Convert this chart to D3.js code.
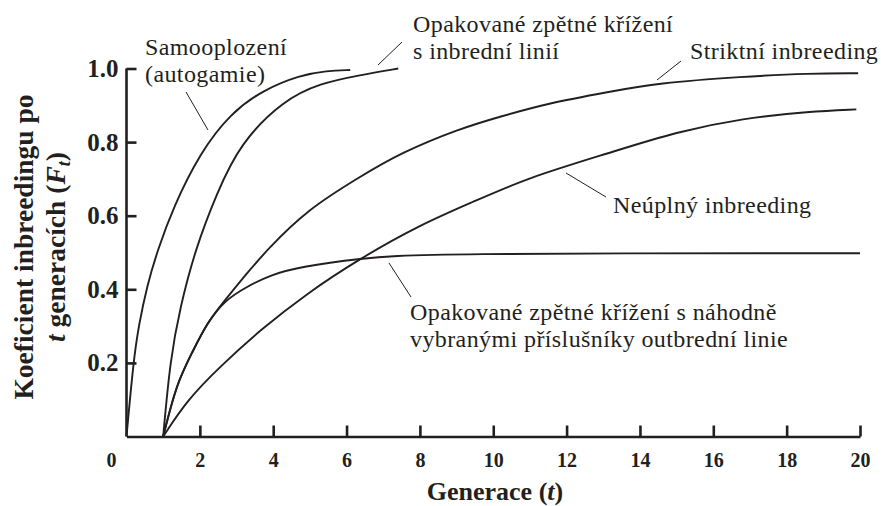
<!DOCTYPE html>
<html>
<head>
<meta charset="utf-8">
<script src="https://cdn.jsdelivr.net/npm/d3@7"></script>
<style>
  body { margin: 0; background: #fff; }
  svg text { font-family: "Liberation Serif", "Times New Roman", serif; fill: #231f20; }
  .axis path, .axis line { stroke: #231f20; stroke-width: 2.6; }
  .axis text { font-weight: bold; }
  .curve { fill: none; stroke: #231f20; stroke-width: 1.9; }
  .leader { stroke: #231f20; stroke-width: 1; }
  .note { font-size: 24px; letter-spacing: 0.4px; }
</style>
</head>
<body>
<div class="chart"></div>
<script>
// values (generation t, inbreeding coefficient F)
var selfT = [0, 0.19, 0.33, 0.56, 0.85, 1.28, 2.0, 2.83, 3.73, 4.73, 5.46, 6.1];
var selfF = [0, 0.205, 0.30, 0.41, 0.507, 0.624, 0.77, 0.878, 0.942, 0.982, 0.994, 0.996];

var inbredBackT = [1, 1.19, 1.46, 1.87, 2.46, 3.10, 4.28, 5.28, 6.37, 7.41];
var inbredBackF = [0, 0.208, 0.35, 0.507, 0.661, 0.797, 0.914, 0.96, 0.982, 1.0];

var strictT = [1, 1.37, 1.78, 2.19, 2.69, 3.28, 3.83, 4.92, 6.37, 7.46, 9.09, 10.18, 11.46, 13.18, 14.45, 16.8, 18.63, 19.95];
var strictF = [0, 0.145, 0.226, 0.308, 0.371, 0.443, 0.507, 0.616, 0.706, 0.770, 0.837, 0.869, 0.905, 0.937, 0.96, 0.978, 0.987, 0.987];

var partialT = [1, 1.65, 2.55, 3.64, 4.92, 6.37, 8.0, 9.46, 10.91, 13.18, 15.0, 16.81, 18.63, 19.9];
var partialF = [0, 0.099, 0.19, 0.289, 0.389, 0.484, 0.575, 0.638, 0.702, 0.771, 0.828, 0.865, 0.883, 0.889];

var outbredBackT = [1, 1.37, 1.78, 2.19, 2.69, 3.28, 3.92, 4.73, 6.37, 8.0, 20];
var outbredBackF = [0, 0.145, 0.226, 0.308, 0.371, 0.407, 0.439, 0.461, 0.484, 0.498, 0.498];

var xTicks = [2, 4, 6, 8, 10, 12, 14, 16, 18, 20];
var yTicks = [0.2, 0.4, 0.6, 0.8, 1.0];

var svgWidth = 881;
var svgHeight = 506;

var svg = d3.select(".chart")
  .append("svg")
  .attr("width", svgWidth)
  .attr("height", svgHeight);

var x = d3.scaleLinear().domain([0, 20]).range([126.5, 860]);
var y = d3.scaleLinear().domain([0, 1]).range([436.5, 68.5]);

// x axis, ticks pointing up into the plot
var xAxis = svg.append("g")
  .attr("class", "axis")
  .attr("transform", "translate(0,436.5)")
  .call(d3.axisBottom(x).tickValues(xTicks).tickSize(-11).tickSizeOuter(0).tickPadding(16));
xAxis.selectAll("text").style("font-size", "20px");

svg.append("text")
  .attr("x", x(0) - 15)
  .attr("y", 467)
  .attr("text-anchor", "middle")
  .style("font-size", "20px")
  .style("font-weight", "bold")
  .text("0");

// y axis, ticks pointing right
var yAxis = svg.append("g")
  .attr("class", "axis")
  .attr("transform", "translate(126.5,0)")
  .call(d3.axisLeft(y).tickValues(yTicks).tickSize(-10).tickSizeOuter(0).tickPadding(8).tickFormat(d3.format(".1f")));
yAxis.selectAll("text").style("font-size", "25px");
yAxis.select(".domain").attr("d", "M0," + y(0) + "V" + y(1));

// curves
var line = d3.line()
  .x(function (d) { return x(d[0]); })
  .y(function (d) { return y(d[1]); })
  .curve(d3.curveBasis);

function pairs(ts, fs) {
  return ts.map(function (t, i) { return [t, fs[i]]; });
}

[[selfT, selfF], [inbredBackT, inbredBackF], [strictT, strictF], [partialT, partialF], [outbredBackT, outbredBackF]]
  .forEach(function (s) {
    svg.append("path")
      .attr("class", "curve")
      .attr("d", line(pairs(s[0], s[1])));
  });

// labels with leader lines
var notes = [
  { lines: ["Samooplození", "(autogamie)"], x: 145, y: 55, lead: [186, 92, 208, 130] },
  { lines: ["Opakované zpětné křížení", "s inbrední linií"], x: 413, y: 32, lead: [402, 42, 378, 65] },
  { lines: ["Striktní inbreeding"], x: 690, y: 59, lead: [681, 61, 657, 80] },
  { lines: ["Neúplný inbreeding"], x: 613, y: 213, lead: [566, 173, 606, 197] },
  { lines: ["Opakované zpětné křížení s náhodně", "vybranými příslušníky outbrední linie"], x: 410, y: 320, lead: [389, 263, 411, 297] }
];

notes.forEach(function (n) {
  svg.append("line")
    .attr("class", "leader")
    .attr("x1", n.lead[0]).attr("y1", n.lead[1])
    .attr("x2", n.lead[2]).attr("y2", n.lead[3]);
  var t = svg.append("text").attr("class", "note");
  n.lines.forEach(function (s, i) {
    t.append("tspan").attr("x", n.x).attr("y", n.y + i * 26.5).text(s);
  });
});

// axis titles
var xTitle = svg.append("text")
  .attr("x", 495)
  .attr("y", 500)
  .attr("text-anchor", "middle")
  .style("font-size", "26px")
  .style("font-weight", "bold");
xTitle.append("tspan").text("Generace (");
xTitle.append("tspan").style("font-style", "italic").text("t");
xTitle.append("tspan").text(")");

var yTitle = svg.append("text")
  .attr("transform", "translate(33,247) rotate(-90)")
  .attr("text-anchor", "middle")
  .style("font-size", "27.5px")
  .style("font-weight", "bold");
yTitle.append("tspan").attr("x", 0).attr("y", 0).text("Koeficient inbreedingu po");
var l2 = svg.append("text")
  .attr("transform", "translate(65,247) rotate(-90)")
  .attr("text-anchor", "middle")
  .style("font-size", "27.5px")
  .style("font-weight", "bold");
l2.append("tspan").style("font-style", "italic").text("t");
l2.append("tspan").text(" generacích (");
l2.append("tspan").style("font-style", "italic").text("F");
l2.append("tspan").style("font-style", "italic").style("font-size", "18px").attr("dy", 5).text("t");
l2.append("tspan").attr("dy", -5).text(")");
</script>
</body>
</html>
